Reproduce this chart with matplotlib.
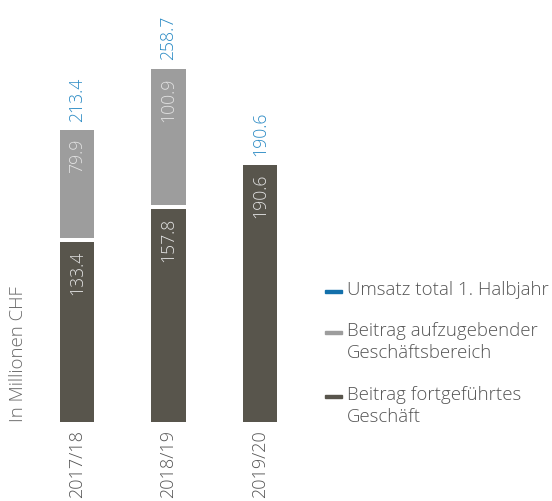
import matplotlib
matplotlib.use("Agg")
import matplotlib.pyplot as plt
from matplotlib.patches import Rectangle

# data
years = ["2017/18", "2018/19", "2019/20"]
fortgefuehrt = [133.4, 157.8, 190.6]
aufzugebend = [79.9, 100.9, 0.0]
total = [213.4, 258.7, 190.6]
legend_labels = [
    ["Umsatz total 1. Halbjahr"],
    ["Beitrag aufzugebender", "Geschäftsbereich"],
    ["Beitrag fortgeführtes", "Geschäft"],
]

DARK = "#58554c"
GREY = "#9d9d9d"
BLUE = "#2a8ac4"
BLUE_PATCH = "#1370ab"
INNER = "#e2e2e2"
TEXT = "#555555"

plt.rcParams["font.family"] = ["Open Sans", "DejaVu Sans"]
plt.rcParams["font.weight"] = "light"
FS = 12.7
FS_LEGEND = 13.4

W, H = 552, 501
fig = plt.figure(figsize=(W / 100, H / 100), dpi=100)

# axes placed in pixel coordinates
left, right, bottom, top = 40, 300, 422, 0
ax = fig.add_axes([left / W, (H - bottom) / H, (right - left) / W, (bottom - top) / H])
ax.set_xlim(-0.404, 2.437)
ax.set_ylim(0, 312.6)
ax.axis("off")

gap = 3.0  # white gap between the two segments (data units)
width = 0.372
xs = list(range(len(years)))

ax.bar(xs, fortgefuehrt, width=width, color=DARK)
ax.bar(xs, aufzugebend, width=width, bottom=[v + gap for v in fortgefuehrt], color=GREY)

for i in xs:
    ax.annotate(f"{fortgefuehrt[i]:.1f}", (i, fortgefuehrt[i]), xytext=(0, -6.5),
                textcoords="offset points", rotation=90, ha="center", va="top",
                color=INNER, fontsize=FS)
    if aufzugebend[i] > 0:
        top_y = fortgefuehrt[i] + gap + aufzugebend[i]
        ax.annotate(f"{aufzugebend[i]:.1f}", (i, top_y), xytext=(0, -6.5),
                    textcoords="offset points", rotation=90,
                    ha="center", va="top", color=INNER, fontsize=FS)
    else:
        top_y = fortgefuehrt[i]
    ax.annotate(f"{total[i]:.1f}", (i, top_y), xytext=(0, 6),
                textcoords="offset points", rotation=90, ha="center", va="bottom",
                color=BLUE, fontsize=FS)
    ax.annotate(years[i], (i, 0), xytext=(0, -6), textcoords="offset points",
                rotation=90, ha="center", va="top", color=TEXT, fontsize=FS + 0.3)

fig.text(18 / W, (H - bottom) / H, "In Millionen CHF", rotation=90, ha="center",
         va="bottom", color="#6a6a6a", fontsize=FS_LEGEND)

# legend drawn by hand, one text per line
legend_colors = [BLUE_PATCH, GREY, DARK]
baselines = [295, 336, 400]
line_step = 21.5
for lines, col, y in zip(legend_labels, legend_colors, baselines):
    fig.add_artist(Rectangle((325 / W, (H - y + 2) / H), 17 / W, 3.5 / H,
                             transform=fig.transFigure, color=col))
    for k, line in enumerate(lines):
        fig.text(347 / W, (H - y - k * line_step) / H, line, ha="left",
                 va="baseline", color=TEXT, fontsize=FS_LEGEND)

fig.savefig("out.png", dpi=100)
